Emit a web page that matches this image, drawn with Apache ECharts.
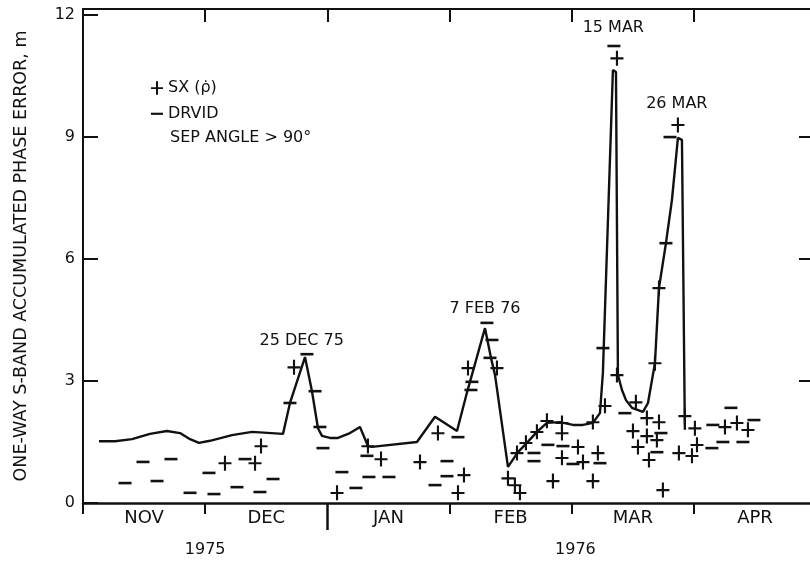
<!DOCTYPE html>
<html>
<head>
<meta charset="utf-8">
<script src="https://cdn.jsdelivr.net/npm/echarts@6/dist/echarts.min.js"></script>
<style>
html,body{margin:0;padding:0;background:#fff;}
#chart{width:810px;height:563px;}
</style>
</head>
<body>
<div id="chart"></div>
<script>
// x in months since 1 Nov 1975 (0 = 1 NOV, 1 = 1 DEC, ...), y in metres
const monthLabels = ['NOV', 'DEC', 'JAN', 'FEB', 'MAR', 'APR'];
const monthLabelPos = [0.5, 1.5, 2.5, 3.5, 4.5, 5.5];
const monthBounds = [1, 2, 3, 4, 5];
const yearLabels = ['1975', '1976'];
const yearPos = [1.0, 4.03];
const yTicks = [0, 3, 6, 9, 12];

const curveX = [0.131, 0.262, 0.401, 0.548, 0.687, 0.794, 0.876, 0.949, 1.039, 1.219, 1.383, 1.637, 1.694, 1.817, 1.874, 1.923, 1.956, 2.021, 2.087, 2.185, 2.267, 2.332, 2.365, 2.733, 2.881, 3.061, 3.142, 3.290, 3.339, 3.372, 3.478, 3.560, 3.633, 3.715, 3.797, 3.903, 4.010, 4.092, 4.173, 4.231, 4.255, 4.337, 4.362, 4.378, 4.411, 4.444, 4.493, 4.583, 4.624, 4.681, 4.714, 4.771, 4.820, 4.869, 4.902, 4.926];
const curveY = [1.52, 1.52, 1.57, 1.70, 1.77, 1.72, 1.57, 1.48, 1.53, 1.67, 1.75, 1.70, 2.46, 3.59, 2.75, 1.84, 1.65, 1.60, 1.60, 1.72, 1.87, 1.40, 1.38, 1.50, 2.12, 1.77, 2.71, 4.30, 3.57, 3.15, 0.89, 1.25, 1.48, 1.75, 1.97, 1.99, 1.92, 1.92, 1.97, 2.21, 3.20, 10.65, 10.60, 3.15, 2.78, 2.53, 2.34, 2.24, 2.46, 3.44, 5.29, 6.39, 7.45, 8.98, 8.93, 1.80];

const sxX = [1.162, 1.408, 1.457, 1.727, 2.079, 2.332, 2.439, 2.758, 2.905, 3.118, 3.069, 3.151, 3.388, 3.478, 3.535, 3.576, 3.552, 3.625, 3.715, 3.797, 3.920, 3.920, 3.920, 3.846, 4.051, 4.092, 4.214, 4.173, 4.173, 4.272, 4.370, 4.370, 4.525, 4.615, 4.714, 4.501, 4.615, 4.697, 4.542, 4.632, 4.746, 4.681, 4.714, 4.869, 4.926, 5.008, 4.877, 4.984, 5.025, 5.254, 5.352, 5.442];
const sxY = [0.98, 0.98, 1.40, 3.34, 0.25, 1.40, 1.08, 1.01, 1.72, 0.69, 0.25, 3.32, 3.32, 0.61, 0.44, 0.25, 1.23, 1.48, 1.75, 2.02, 1.97, 1.72, 1.11, 0.54, 1.38, 1.01, 1.23, 0.54, 1.99, 2.39, 3.15, 10.94, 2.48, 2.09, 1.99, 1.77, 1.65, 1.55, 1.38, 1.06, 0.32, 3.44, 5.29, 9.30, 2.14, 1.84, 1.23, 1.16, 1.43, 1.87, 1.97, 1.80];

const drvidX = [0.344, 0.491, 0.606, 0.720, 0.876, 1.072, 1.031, 1.260, 1.326, 1.448, 1.555, 1.694, 1.833, 1.899, 1.939, 1.964, 2.119, 2.234, 2.324, 2.340, 2.504, 2.979, 2.881, 2.979, 3.069, 3.183, 3.175, 3.306, 3.347, 3.331, 3.691, 3.691, 3.805, 3.928, 4.010, 4.231, 4.255, 4.345, 4.435, 4.730, 4.697, 4.771, 4.804, 5.147, 5.155, 5.303, 5.237, 5.401, 5.491];
const drvidY = [0.49, 1.01, 0.54, 1.08, 0.25, 0.22, 0.74, 0.39, 1.08, 0.27, 0.59, 2.46, 3.66, 2.75, 1.87, 1.35, 0.76, 0.37, 1.16, 0.64, 0.64, 1.03, 0.44, 0.66, 1.62, 2.98, 2.78, 4.43, 4.01, 3.57, 1.23, 1.03, 1.43, 1.40, 0.96, 0.98, 3.81, 11.24, 2.21, 1.72, 1.25, 6.39, 9.00, 1.35, 1.92, 2.34, 1.50, 1.50, 2.04];

const noteText = ['25 DEC 75', '7 FEB 76', '15 MAR', '26 MAR'];
const noteX = [1.79, 3.29, 4.34, 4.86];
const noteY = [3.98, 4.77, 11.68, 9.81];

const X_MAX = 5.95;
const Y_MAX = 12.15;
const INK = '#111';
const FONT = 'DejaVu Sans';
const PLUS = 'path://M0,7H14V9.3H0Z M5.85,0H8.15V16H5.85Z';
const DASH = 'path://M0,0 M0,6.5H14V9H0Z M14,16';

const zip = (a, b) => a.map((v, i) => [v, b[i]]);
const nearestLabel = (vals, labels) => (v) => {
  let best = 0;
  vals.forEach((p, i) => { if (Math.abs(p - v) < Math.abs(vals[best] - v)) best = i; });
  return labels[best];
};

const chart = echarts.init(document.getElementById('chart'), null, {renderer: 'canvas'});
chart.setOption({
  animation: false,
  backgroundColor: '#fff',
  textStyle: {fontFamily: FONT, color: INK},
  grid: {left: 83, right: 0, top: 9, bottom: 60, containLabel: false},
  legend: {
    orient: 'vertical', left: 151, top: 80, padding: 0,
    itemWidth: 12, itemHeight: 15, itemGap: 10, itemTextGap: 8,
    selectedMode: false,
    textStyle: {fontFamily: FONT, fontSize: 16, color: INK},
    data: [
      {name: 'SX (\u03C1\u0307)', icon: PLUS, itemStyle: {color: INK}},
      {name: 'DRVID', icon: DASH, itemStyle: {color: INK}}
    ]
  },
  graphic: [{
    type: 'text', left: 170, top: 130,
    style: {text: 'SEP ANGLE > 90\u00B0', font: '16px "DejaVu Sans"', fill: INK}
  }],
  xAxis: [
    {
      type: 'value', position: 'bottom', min: 0, max: X_MAX,
      axisLine: {show: true, onZero: false, lineStyle: {color: INK, width: 2.5}},
      axisTick: {show: true, inside: false, length: 11, customValues: [0, 1, 3, 4, 5], lineStyle: {color: INK, width: 2}},
      axisLabel: {show: true, customValues: monthLabelPos, margin: 6, fontSize: 18, color: INK, fontFamily: FONT,
        formatter: nearestLabel(monthLabelPos, monthLabels)},
      splitLine: {show: false}
    },
    {
      type: 'value', position: 'top', min: 0, max: X_MAX,
      axisLine: {show: true, onZero: false, lineStyle: {color: INK, width: 2}},
      axisTick: {show: true, inside: true, length: 13, customValues: monthBounds, lineStyle: {color: INK, width: 2}},
      axisLabel: {show: false},
      splitLine: {show: false}
    },
    {
      type: 'value', position: 'bottom', min: 0, max: X_MAX,
      axisLine: {show: false, onZero: false},
      axisTick: {show: true, inside: false, length: 27, customValues: [2], lineStyle: {color: INK, width: 2.5}},
      axisLabel: {show: true, customValues: yearPos, margin: 39, fontSize: 16, color: INK, fontFamily: FONT,
        formatter: nearestLabel(yearPos, yearLabels)},
      splitLine: {show: false}
    }
  ],
  yAxis: [
    {
      type: 'value', position: 'left', min: 0, max: Y_MAX,
      name: 'ONE-WAY S-BAND ACCUMULATED PHASE ERROR, m',
      nameLocation: 'middle', nameGap: 53,
      nameTextStyle: {fontSize: 17.5, color: INK, fontFamily: FONT},
      axisLine: {show: true, onZero: false, lineStyle: {color: INK, width: 2}},
      axisTick: {show: true, inside: true, length: 15, customValues: yTicks, lineStyle: {color: INK, width: 2}},
      axisLabel: {show: true, customValues: yTicks, margin: 8, fontSize: 16, color: INK, fontFamily: FONT},
      splitLine: {show: false}
    },
    {
      type: 'value', position: 'right', min: 0, max: Y_MAX,
      axisLine: {show: false, onZero: false},
      axisTick: {show: true, inside: true, length: 11, customValues: [3, 6, 9], lineStyle: {color: INK, width: 2}},
      axisLabel: {show: false},
      splitLine: {show: false}
    }
  ],
  series: [
    {
      name: 'curve', type: 'line', xAxisIndex: 0, yAxisIndex: 0,
      data: zip(curveX, curveY), showSymbol: false, symbol: 'none',
      lineStyle: {color: INK, width: 2.4}, z: 2, silent: true
    },
    {
      name: 'SX (\u03C1\u0307)', type: 'scatter', xAxisIndex: 0, yAxisIndex: 0,
      data: zip(sxX, sxY), symbol: PLUS, symbolSize: [13, 15],
      itemStyle: {color: INK, opacity: 1}, z: 3
    },
    {
      name: 'DRVID', type: 'scatter', xAxisIndex: 0, yAxisIndex: 0,
      data: zip(drvidX, drvidY), symbol: 'rect', symbolSize: [13, 2.6],
      itemStyle: {color: INK, opacity: 1}, z: 3
    },
    {
      name: 'notes', type: 'scatter', xAxisIndex: 0, yAxisIndex: 0,
      data: noteText.map((t, i) => ({name: t, value: [noteX[i], noteY[i]]})),
      symbolSize: 0, silent: true,
      itemStyle: {opacity: 1},
      label: {show: true, position: 'inside', formatter: '{b}', fontSize: 16, color: INK, opacity: 1, fontFamily: FONT}
    }
  ]
});
</script>
</body>
</html>
